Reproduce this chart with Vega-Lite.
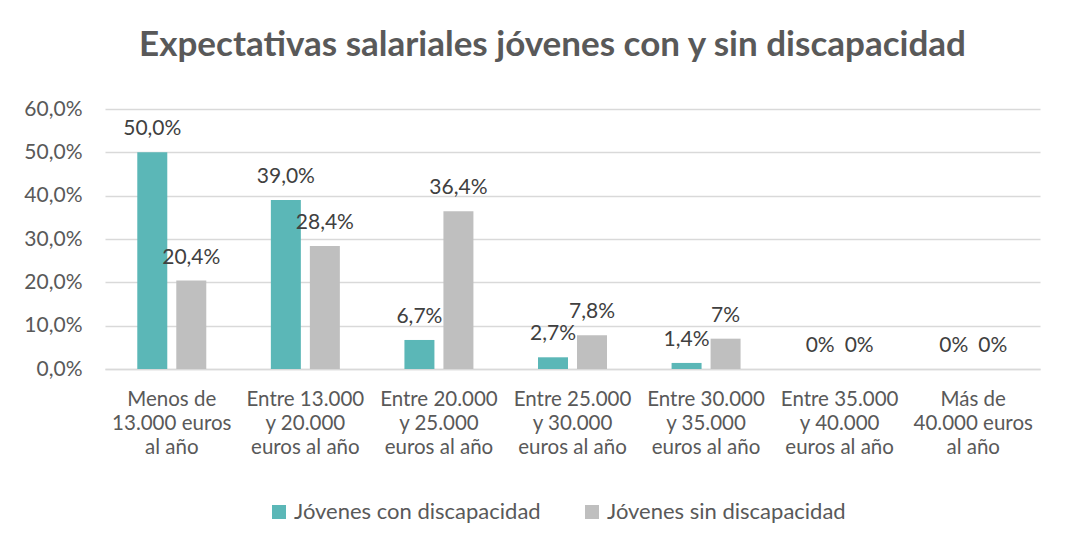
{
  "$schema": "https://vega.github.io/schema/vega-lite/v6.json",
  "width": 935,
  "height": 260,
  "autosize": {"type": "none"},
  "padding": {"left": 105, "top": 109, "right": 41, "bottom": 173},
  "background": "white",
  "title": {
    "text": "Expectativas salariales jóvenes con y sin discapacidad",
    "anchor": "middle",
    "dx": -20,
    "offset": 35,
    "fontSize": 35,
    "font": "Lato",
    "fontWeight": "bold",
    "color": "#595959"
  },
  "config": {
    "locale": {"number": {"decimal": ",", "thousands": ".", "grouping": [3], "currency": ["", " €"]}},
    "view": {"stroke": null},
    "font": "Lato"
  },
  "data": {
    "values": [
      {"rango": "Menos de\n13.000 euros\nal año", "grupo": "Jóvenes con discapacidad", "valor": 0.5, "etiqueta": "50,0%"},
      {"rango": "Menos de\n13.000 euros\nal año", "grupo": "Jóvenes sin discapacidad", "valor": 0.204, "etiqueta": "20,4%"},
      {"rango": "Entre 13.000\ny 20.000\neuros al año", "grupo": "Jóvenes con discapacidad", "valor": 0.39, "etiqueta": "39,0%"},
      {"rango": "Entre 13.000\ny 20.000\neuros al año", "grupo": "Jóvenes sin discapacidad", "valor": 0.284, "etiqueta": "28,4%"},
      {"rango": "Entre 20.000\ny 25.000\neuros al año", "grupo": "Jóvenes con discapacidad", "valor": 0.067, "etiqueta": "6,7%"},
      {"rango": "Entre 20.000\ny 25.000\neuros al año", "grupo": "Jóvenes sin discapacidad", "valor": 0.364, "etiqueta": "36,4%"},
      {"rango": "Entre 25.000\ny 30.000\neuros al año", "grupo": "Jóvenes con discapacidad", "valor": 0.027, "etiqueta": "2,7%"},
      {"rango": "Entre 25.000\ny 30.000\neuros al año", "grupo": "Jóvenes sin discapacidad", "valor": 0.078, "etiqueta": "7,8%"},
      {"rango": "Entre 30.000\ny 35.000\neuros al año", "grupo": "Jóvenes con discapacidad", "valor": 0.014, "etiqueta": "1,4%"},
      {"rango": "Entre 30.000\ny 35.000\neuros al año", "grupo": "Jóvenes sin discapacidad", "valor": 0.07, "etiqueta": "7%"},
      {"rango": "Entre 35.000\ny 40.000\neuros al año", "grupo": "Jóvenes con discapacidad", "valor": 0, "etiqueta": "0%"},
      {"rango": "Entre 35.000\ny 40.000\neuros al año", "grupo": "Jóvenes sin discapacidad", "valor": 0, "etiqueta": "0%"},
      {"rango": "Más de\n40.000 euros\nal año", "grupo": "Jóvenes con discapacidad", "valor": 0, "etiqueta": "0%"},
      {"rango": "Más de\n40.000 euros\nal año", "grupo": "Jóvenes sin discapacidad", "valor": 0, "etiqueta": "0%"}
    ]
  },
  "encoding": {
    "x": {
      "field": "rango",
      "type": "nominal",
      "sort": null,
      "scale": {"paddingInner": 0.4835, "paddingOuter": 0.2417},
      "axis": {
        "title": null,
        "labelAngle": 0,
        "labelExpr": "split(datum.label, '\\n')",
        "labelFontSize": 20.5,
        "labelColor": "#595959",
        "labelLineHeight": 24,
        "labelPadding": 20,
        "labelBaseline": "top",
        "ticks": false,
        "domain": true,
        "domainColor": "#d9d9d9",
        "domainWidth": 1.5,
        "labelLimit": 200,
        "labelOverlap": false
      }
    },
    "xOffset": {"field": "grupo", "type": "nominal", "sort": ["Jóvenes con discapacidad", "Jóvenes sin discapacidad"], "scale": {"paddingInner": 0.2308, "paddingOuter": 0}},
    "y": {
      "field": "valor",
      "type": "quantitative",
      "scale": {"domain": [0, 0.6]},
      "axis": {
        "title": null,
        "format": ".1%",
        "values": [0, 0.1, 0.2, 0.3, 0.4, 0.5, 0.6],
        "labelFontSize": 21,
        "labelColor": "#595959",
        "labelPadding": 23,
        "labelOverlap": false,
        "ticks": false,
        "domain": false,
        "gridColor": "#d9d9d9",
        "gridWidth": 1.5
      }
    }
  },
  "layer": [
    {
      "mark": {"type": "bar"},
      "encoding": {
        "color": {
          "field": "grupo",
          "type": "nominal",
          "scale": {"domain": ["Jóvenes con discapacidad", "Jóvenes sin discapacidad"], "range": ["#5BB7B7", "#BFBFBF"]},
          "legend": {
            "title": null,
            "orient": "none",
            "legendX": 163,
            "legendY": 392,
            "direction": "horizontal",
            "symbolType": "square",
            "symbolSize": 196,
            "symbolStrokeWidth": 0,
            "labelFontSize": 22,
            "labelColor": "#595959",
            "labelOffset": 4,
            "columnPadding": 40,
            "labelLimit": 400
          }
        }
      }
    },
    {
      "mark": {"type": "text", "baseline": "bottom", "dy": -13, "fontSize": 21, "color": "#404040"},
      "encoding": {"text": {"field": "etiqueta", "type": "nominal"}}
    }
  ]
}
